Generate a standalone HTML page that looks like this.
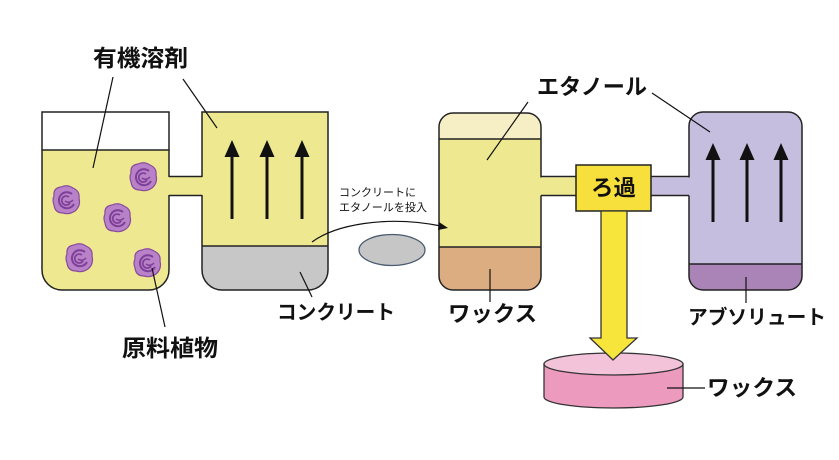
<!DOCTYPE html>
<html><head><meta charset="utf-8">
<style>
html,body{margin:0;padding:0;background:#fff;}
svg{display:block;}
text{font-family:"Liberation Sans","Noto Sans CJK JP",sans-serif;fill:#111;}
.b{font-weight:bold;}
</style></head>
<body>
<svg width="839" height="460" viewBox="0 0 839 460" xmlns="http://www.w3.org/2000/svg">
<defs>
<g id="rose">
  <path d="M-12,-4 Q-13,-12 -5,-13 Q1,-16 7,-12 Q14,-9 13,-2 Q15,6 9,11 Q3,15 -3,13 Q-11,13 -12,5 Q-14,0 -12,-4 Z" fill="#b882c8" stroke="#8a4a9e" stroke-width="1.2"/>
  <path d="M6,-6 A8,8 0 1 0 8,4" fill="none" stroke="#7e3f98" stroke-width="2"/>
  <path d="M3,-3 A4.5,4.5 0 1 0 4,3" fill="none" stroke="#7e3f98" stroke-width="1.7"/>
  <path d="M-1,1 Q3,4 7,0" fill="none" stroke="#7e3f98" stroke-width="1.5"/>
</g>
<g id="arr">
  <line x1="0" y1="79" x2="0" y2="14" stroke="#111" stroke-width="3"/>
  <polygon points="0,0 -7.5,17 7.5,17" fill="#111"/>
</g>
</defs>

<!-- Left beaker -->
<rect x="42" y="112" width="127" height="38" fill="#fff"/>
<path d="M42,150 H169 V270 A20,20 0 0 1 149,290 H62 A20,20 0 0 1 42,270 Z" fill="#eee990"/>
<path d="M42,112 H169 V270 A20,20 0 0 1 149,290 H62 A20,20 0 0 1 42,270 Z" fill="none" stroke="#222" stroke-width="1.5"/>
<line x1="42" y1="150" x2="169" y2="150" stroke="#222" stroke-width="1.5"/>

<!-- Right box (concrete) -->
<path d="M202,112 H328 V246 H202 Z" fill="#eee990"/>
<path d="M202,246 H328 V270 A20,20 0 0 1 308,290 H222 A20,20 0 0 1 202,270 Z" fill="#c7c7c7"/>
<path d="M202,112 H328 V270 A20,20 0 0 1 308,290 H222 A20,20 0 0 1 202,270 Z" fill="none" stroke="#222" stroke-width="1.5"/>
<line x1="202" y1="246" x2="328" y2="246" stroke="#222" stroke-width="1.5"/>

<!-- tube 1 -->
<rect x="167" y="177" width="37" height="18" fill="#eee990"/>
<line x1="169" y1="176.5" x2="202" y2="176.5" stroke="#222" stroke-width="1.5"/>
<line x1="169" y1="195.5" x2="202" y2="195.5" stroke="#222" stroke-width="1.5"/>

<!-- roses -->
<use href="#rose" x="143" y="177"/>
<use href="#rose" x="66" y="200"/>
<use href="#rose" x="117" y="218"/>
<use href="#rose" x="79" y="258"/>
<use href="#rose" x="147" y="263"/>

<!-- arrows in concrete box -->
<use href="#arr" x="232" y="140"/>
<use href="#arr" x="267" y="140"/>
<use href="#arr" x="302" y="140"/>

<!-- ellipse -->
<ellipse cx="392" cy="250" rx="33" ry="15.5" fill="#c6c6c6" stroke="#4a5a70" stroke-width="1.3"/>

<!-- middle vessel -->
<path d="M453,113 H527 A14,14 0 0 1 541,127 V139 H439 V127 A14,14 0 0 1 453,113 Z" fill="#f6efc6"/>
<rect x="439" y="139" width="102" height="108" fill="#eee990"/>
<path d="M439,247 H541 V276 A14,14 0 0 1 527,290 H453 A14,14 0 0 1 439,276 Z" fill="#dcad80"/>
<rect x="439" y="113" width="102" height="177" rx="14" ry="14" fill="none" stroke="#222" stroke-width="1.5"/>
<line x1="439" y1="139" x2="541" y2="139" stroke="#222" stroke-width="1.5"/>
<line x1="439" y1="247" x2="541" y2="247" stroke="#222" stroke-width="1.5"/>

<!-- tube to filter -->
<rect x="539" y="177.5" width="38" height="18" fill="#eee990"/>
<line x1="541" y1="176.5" x2="576" y2="176.5" stroke="#222" stroke-width="1.5"/>
<line x1="541" y1="195.5" x2="576" y2="195.5" stroke="#222" stroke-width="1.5"/>

<!-- purple vessel -->
<path d="M703,112 H788 A14,14 0 0 1 802,126 V264 H689 V126 A14,14 0 0 1 703,112 Z" fill="#c6bedf"/>
<path d="M689,264 H802 V276 A14,14 0 0 1 788,290 H703 A14,14 0 0 1 689,276 Z" fill="#aa84b6"/>
<rect x="689" y="112" width="113" height="178" rx="14" ry="14" fill="none" stroke="#222" stroke-width="1.5"/>
<line x1="689" y1="264" x2="802" y2="264" stroke="#222" stroke-width="1.5"/>

<!-- purple tube -->
<rect x="650" y="177.5" width="41" height="18" fill="#c6bedf"/>
<line x1="651" y1="176.5" x2="689" y2="176.5" stroke="#222" stroke-width="1.5"/>
<line x1="651" y1="195.5" x2="689" y2="195.5" stroke="#222" stroke-width="1.5"/>

<!-- arrows in purple -->
<use href="#arr" x="713" y="143"/>
<use href="#arr" x="747" y="143"/>
<use href="#arr" x="781" y="143"/>

<!-- filter box -->
<rect x="576" y="165" width="75" height="46" fill="#f7e03c" stroke="#222" stroke-width="1.5"/>
<text class="b" x="591" y="188" font-size="22" dominant-baseline="central" textLength="45" lengthAdjust="spacingAndGlyphs">ろ過</text>

<!-- cylinder -->
<path d="M544,364 V397 A69.5,11 0 0 0 683,397 V364 Z" fill="#ec9bbf" stroke="#333" stroke-width="1.3"/>
<ellipse cx="613.5" cy="364" rx="69.5" ry="11" fill="#f3c3da" stroke="#333" stroke-width="1.3"/>

<!-- yellow down arrow -->
<path d="M601,211 H627 V338 H637 L613,360 L590,338 H601 Z" fill="#f7e53c" stroke="#333" stroke-width="1.3"/>

<!-- leader lines -->
<g stroke="#111" stroke-width="1.2" fill="none">
<line x1="113" y1="77" x2="93" y2="168"/>
<line x1="183" y1="79" x2="217" y2="128"/>
<line x1="165" y1="327" x2="152" y2="268"/>
<line x1="312" y1="297" x2="300" y2="272"/>
<line x1="528" y1="102" x2="487" y2="160"/>
<line x1="652" y1="93" x2="710" y2="132"/>
<line x1="490" y1="269" x2="490" y2="302"/>
<line x1="746" y1="277" x2="746" y2="303"/>
<line x1="667" y1="388" x2="705" y2="388"/>
<path d="M312,242 C335,225 385,215 441,226"/>
</g>
<polygon points="448,228 439,222 438,230" fill="#111"/>

<!-- labels -->
<text class="b" x="93" y="58" font-size="23" dominant-baseline="central" textLength="95" lengthAdjust="spacingAndGlyphs">有機溶剤</text>
<text class="b" x="122" y="348" font-size="23" dominant-baseline="central" textLength="96" lengthAdjust="spacingAndGlyphs">原料植物</text>
<text class="b" x="277" y="313" font-size="20" dominant-baseline="central" textLength="118" lengthAdjust="spacingAndGlyphs">コンクリート</text>
<text class="b" x="448" y="314" font-size="22" dominant-baseline="central" textLength="89" lengthAdjust="spacingAndGlyphs">ワックス</text>
<text class="b" x="537" y="87" font-size="22" dominant-baseline="central" textLength="110" lengthAdjust="spacingAndGlyphs">エタノール</text>
<text class="b" x="688" y="318" font-size="20" dominant-baseline="central" textLength="138" lengthAdjust="spacingAndGlyphs">アブソリュート</text>
<text class="b" x="707" y="388" font-size="22" dominant-baseline="central" textLength="90" lengthAdjust="spacingAndGlyphs">ワックス</text>
<text x="339" y="193" font-size="11" dominant-baseline="central" textLength="77" lengthAdjust="spacingAndGlyphs">コンクリートに</text>
<text x="339" y="208" font-size="11" dominant-baseline="central" textLength="88" lengthAdjust="spacingAndGlyphs">エタノールを投入</text>
</svg>
</body></html>
